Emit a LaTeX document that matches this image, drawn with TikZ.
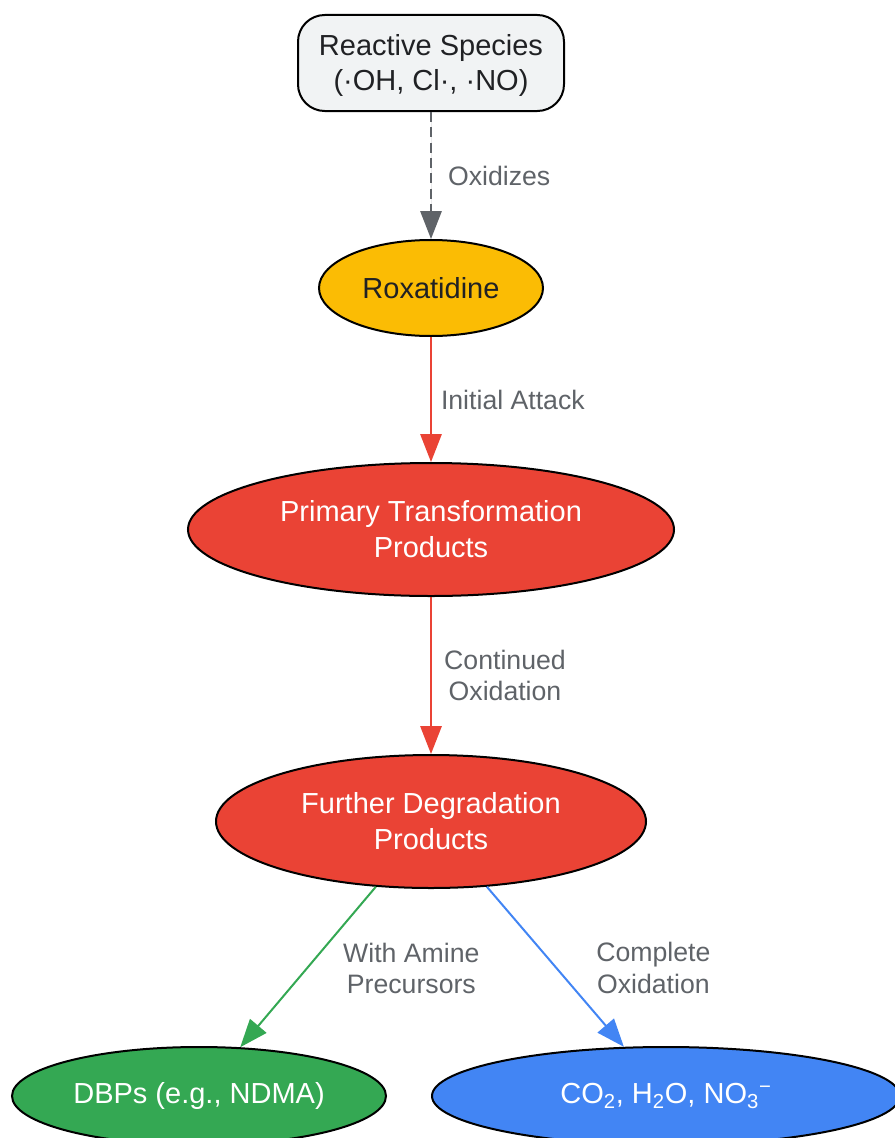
\documentclass[tikz,border=0pt]{standalone}
\usepackage{fontspec}
\setmainfont{Liberation Sans}
\usetikzlibrary{shapes.geometric,arrows.meta}
\definecolor{boxgray}{HTML}{F1F3F4}
\definecolor{gyellow}{HTML}{FBBC04}
\definecolor{gred}{HTML}{EA4335}
\definecolor{ggreen}{HTML}{34A853}
\definecolor{gblue}{HTML}{4285F4}
\definecolor{lblgray}{HTML}{5F6368}
\definecolor{darktext}{HTML}{202124}
\tikzset{
  nodefont/.style={font=\fontsize{21.75}{26}\selectfont, align=center},
  ell/.style={ellipse, draw=black, line width=1.5pt, inner sep=0pt, nodefont, text=white},
  lbl/.style={font=\fontsize{20}{23.5}\selectfont, text=lblgray, align=center, inner sep=0pt},
  conn/.style={line width=1.5pt, -{Triangle[length=21pt,width=16pt]}},
}
\begin{document}
\begin{tikzpicture}[x=0.75pt,y=-0.75pt]
\useasboundingbox (0,0) rectangle (895,1138);
\node[draw=black, line width=1.5pt, fill=boxgray, rounded corners=20pt,
      minimum width=199.5pt, minimum height=72pt, inner sep=0pt,
      nodefont, text=darktext] (rs) at (431,63) {\raisebox{-2.25pt}[\height][\depth]{\begin{tabular}{@{}c@{}}Reactive Species\\(·OH, Cl·, ·NO)\end{tabular}}};
\node[ell, fill=gyellow, text=darktext, minimum width=168pt, minimum height=72pt] (rox) at (431,288) {Roxatidine};
\node[ell, fill=gred, minimum width=364.5pt, minimum height=99.75pt, font=\fontsize{21.75}{27}\selectfont] (ptp) at (431,529.5) {Primary Transformation\\Products};
\node[ell, fill=gred, minimum width=322.5pt, minimum height=99.75pt, font=\fontsize{21.75}{27}\selectfont] (fdp) at (431,821.5) {Further Degradation\\Products};
\node[ell, fill=ggreen, minimum width=280.5pt, minimum height=73.5pt] (dbp) at (199,1096) {DBPs (e.g., NDMA)};
\node[ell, fill=gblue, minimum width=351pt, minimum height=73.5pt] (co2) at (666,1096) {CO\textsubscript{2}, H\textsubscript{2}O, NO\textsubscript{3}\textsuperscript{\char"2212}};

\draw[conn, draw=lblgray, fill=lblgray, dash pattern=on 7.5pt off 4pt] (rs.south) -- (rox.north)
  node[lbl, midway, anchor=west, xshift=12pt] (l1) {Oxidizes};
\draw[conn, draw=gred, fill=gred] (rox.south) -- (ptp.north)
  node[lbl, midway, anchor=west, xshift=6.75pt] (l2) {Initial Attack};
\draw[conn, draw=gred, fill=gred] (ptp.south) -- (fdp.north)
  node[lbl, midway, xshift=55.5pt] (l3) {Continued\\Oxidation};
\draw[conn, draw=ggreen, fill=ggreen] (fdp) -- (dbp)
  node[lbl, midway, xshift=77.5pt, yshift=-1pt] (l4) {With Amine\\Precursors};
\draw[conn, draw=gblue, fill=gblue] (fdp) -- (co2)
  node[lbl, midway, xshift=73.5pt, yshift=-1pt] (l5) {Complete\\Oxidation};
\end{tikzpicture}
\end{document}
